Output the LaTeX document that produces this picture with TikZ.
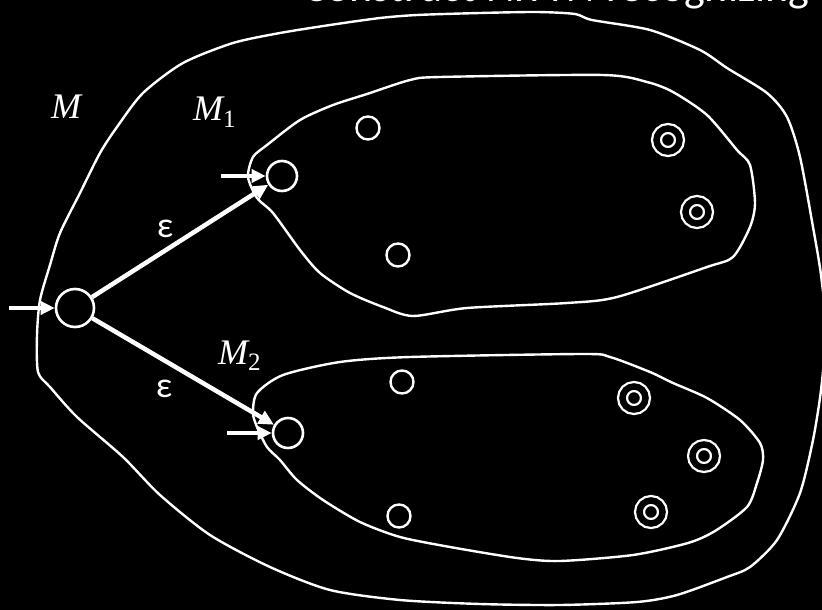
\documentclass[tikz,border=0pt]{standalone}
\usepackage{fontspec}
\newfontfamily\calib{Carlito}
\newfontfamily\mfont{Liberation Serif}
\usetikzlibrary{arrows.meta}
\begin{document}
\begin{tikzpicture}[x=1pt,y=-1pt,
  blob/.style={draw=white, line width=2.4pt, line join=round},
  bigstate/.style={circle, draw=white, line width=2.6pt, inner sep=0pt, minimum size=38pt},
  midstate/.style={circle, draw=white, line width=2.6pt, inner sep=0pt, minimum size=30pt},
  smallstate/.style={circle, draw=white, line width=2.4pt, inner sep=0pt, minimum size=23pt},
  accstate/.style={circle, draw=white, double=black, double distance=6.5pt, line width=2.3pt, inner sep=0pt, minimum size=23pt},
  initarrow/.style={draw=white, line width=4.5pt, -{Triangle[length=14pt,width=13pt]}},
  epsarrow/.style={draw=white, line width=4.5pt, -{Triangle[length=15pt,width=14pt]}},
  epslabel/.style={text=white, inner sep=0pt, font=\calib\fontsize{36}{40}\selectfont},
  mlabel/.style={text=white, inner sep=0pt, anchor=base west, font=\mfont\fontsize{36}{40}\selectfont}
]
\fill[black] (0,0) rectangle (822,610);
\useasboundingbox (0,0) rectangle (822,610);

% title (cut at top edge)
\node[text=white, inner sep=0pt, anchor=base west, font=\calib\fontsize{44}{50}\selectfont] (title) at (303,2) {Construct NFA \textit{N} recognizing};

% outer machine M
\draw[blob] plot[smooth cycle, tension=0.45] coordinates {
 (38,372) (37,335) (40,300) (50,265) (60,233) (80,193) (100,153) (117,127) (143,93)
 (183,63) (233,43) (280,33) (330,25) (380,18) (417,15) (480,13) (537,12) (575,14)
 (592,20) (650,30) (700,50) (727,68) (767,93) (787,117) (800,157) (813,227) (821,275)
 (826,330) (821,390) (813,440) (800,493) (777,540) (750,567) (727,577) (677,595)
 (637,602) (560,605) (480,604) (400,600) (330,590) (270,567) (210,535) (160,495)
 (123,457) (77,417) (50,387)};

% M1
\draw[blob] plot[smooth cycle, tension=0.45] coordinates {
 (248,177) (253,157) (267,145) (300,120) (333,105) (367,94) (410,80) (440,77)
 (603,75) (647,82) (673,92) (707,115) (737,150) (750,165) (755,203) (750,227)
 (733,257) (707,267) (617,297) (567,303) (467,308) (413,316) (383,307) (350,293)
 (320,273) (300,250) (273,213) (257,198)};

% M2
\draw[blob] plot[smooth cycle, tension=0.45] coordinates {
 (257,393) (283,375) (340,362) (410,357) (583,354) (610,357) (650,372) (673,383)
 (707,398) (740,420) (760,443) (763,460) (757,483) (747,507) (715,531) (688,543)
 (633,555) (560,561) (517,558) (450,547) (400,537) (360,522) (323,500) (297,480)
 (280,460) (267,447) (257,427) (253,413)};

% states
\node[bigstate] (q0) at (75,308) {};
\node[midstate] (s1) at (282,176) {};
\node[smallstate] (a1) at (368,128) {};
\node[smallstate] (a2) at (398,255) {};
\node[accstate] (f11) at (668,140) {};
\node[accstate] (f12) at (697,212) {};
\node[midstate] (s2) at (288,433) {};
\node[smallstate] (b1) at (402,382) {};
\node[smallstate] (b2) at (399,516) {};
\node[accstate] (f21) at (634,398) {};
\node[accstate] (f22) at (704,456) {};
\node[accstate] (f23) at (651,512) {};

% start arrows
\coordinate (i0) at (9,308);
\coordinate (i1) at (221,176);
\coordinate (i2) at (227,433);
\draw[initarrow] (i0) -- (q0);
\draw[initarrow] (i1) -- (s1);
\draw[initarrow] (i2) -- (s2);

% epsilon transitions
\draw[epsarrow] (q0) -- (s1);
\draw[epsarrow] (q0) -- (s2);
\node[epslabel] (e1) at (165,229) {ε};
\node[epslabel] (e2) at (164,389) {ε};

% labels
\node[mlabel] (lM) at (51,118) {\itshape M};
\node[mlabel] (lM1) at (193,121) {{\itshape M}\raisebox{-6pt}{\fontsize{25}{28}\selectfont 1}};
\node[mlabel] (lM2) at (218,364) {{\itshape M}\raisebox{-6pt}{\fontsize{25}{28}\selectfont 2}};
\end{tikzpicture}
\end{document}
